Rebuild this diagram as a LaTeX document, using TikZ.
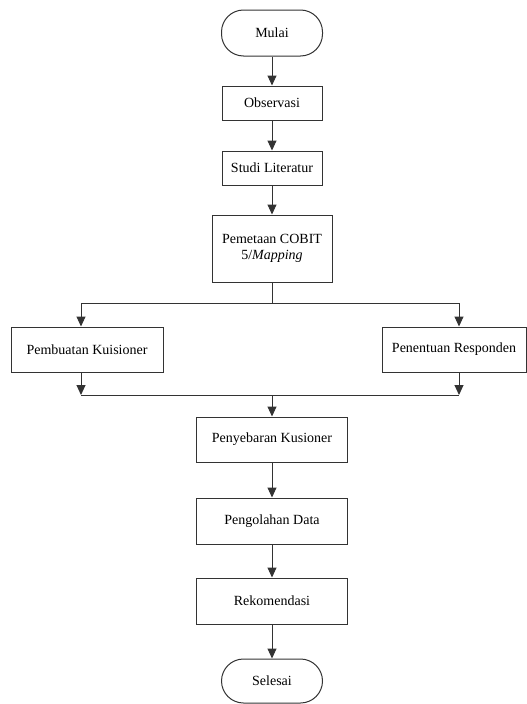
\documentclass[tikz,border=0pt]{standalone}
\usepackage{fontspec}
\setmainfont{Liberation Serif}
\usetikzlibrary{arrows.meta}
\begin{document}
\begin{tikzpicture}[x=1pt,y=-1pt,
  box/.style={draw=black!80,line width=1pt,fill=white,align=center,font=\fontsize{14}{16.5}\selectfont,inner sep=2pt},
  term/.style={box,rounded corners=22pt},
  flow/.style={draw=black!80,line width=1pt,-{Triangle[width=9pt,length=10pt]}},
  ln/.style={draw=black!80,line width=1pt}]
\useasboundingbox (0,0) rectangle (527,704);
\node[term,minimum width=101pt,minimum height=46pt] (mulai) at (272,33) {Mulai};
\node[box,minimum width=100pt,minimum height=34pt] (obs) at (272,103) {Observasi};
\node[box,minimum width=100pt,minimum height=34pt] (studi) at (272,168) {Studi Literatur};
\node[box,minimum width=120pt,minimum height=67pt] (pem) at (272,248.5) {Pemetaan COBIT\\5/\textit{Mapping}};
\node[box,minimum width=152pt,minimum height=45pt] (buat) at (87,349.5) {Pembuatan Kuisioner};
\node[box,minimum width=144pt,minimum height=45pt] (tentu) at (454,349.5) {Penentuan Responden};
\node[box,minimum width=151pt,minimum height=45pt] (sebar) at (272,439.5) {Penyebaran Kusioner};
\node[box,minimum width=151pt,minimum height=46pt] (olah) at (272,521) {Pengolahan Data};
\node[box,minimum width=151pt,minimum height=46pt] (rekom) at (272,601) {Rekomendasi};
\node[term,minimum width=101pt,minimum height=44pt] (selesai) at (272,681) {Selesai};
\coordinate (sL) at (81,303);
\coordinate (sR) at (459,303);
\coordinate (mL) at (81,395);
\coordinate (mR) at (459,395);
\draw[flow] (mulai) -- (obs);
\draw[flow] (obs) -- (studi);
\draw[flow] (studi) -- (pem);
\draw[ln] (pem.south) -- (pem.south |- sL);
\draw[ln] (sL) -- (sR);
\draw[flow] (sL) -- (sL |- buat.north);
\draw[flow] (sR) -- (sR |- tentu.north);
\draw[flow] (mL |- buat.south) -- (mL);
\draw[flow] (mR |- tentu.south) -- (mR);
\draw[ln] (mL) -- (mR);
\draw[flow] (sebar.north |- mL) -- (sebar.north);
\draw[flow] (sebar) -- (olah);
\draw[flow] (olah) -- (rekom);
\draw[flow] (rekom) -- (selesai);
\end{tikzpicture}
\end{document}
